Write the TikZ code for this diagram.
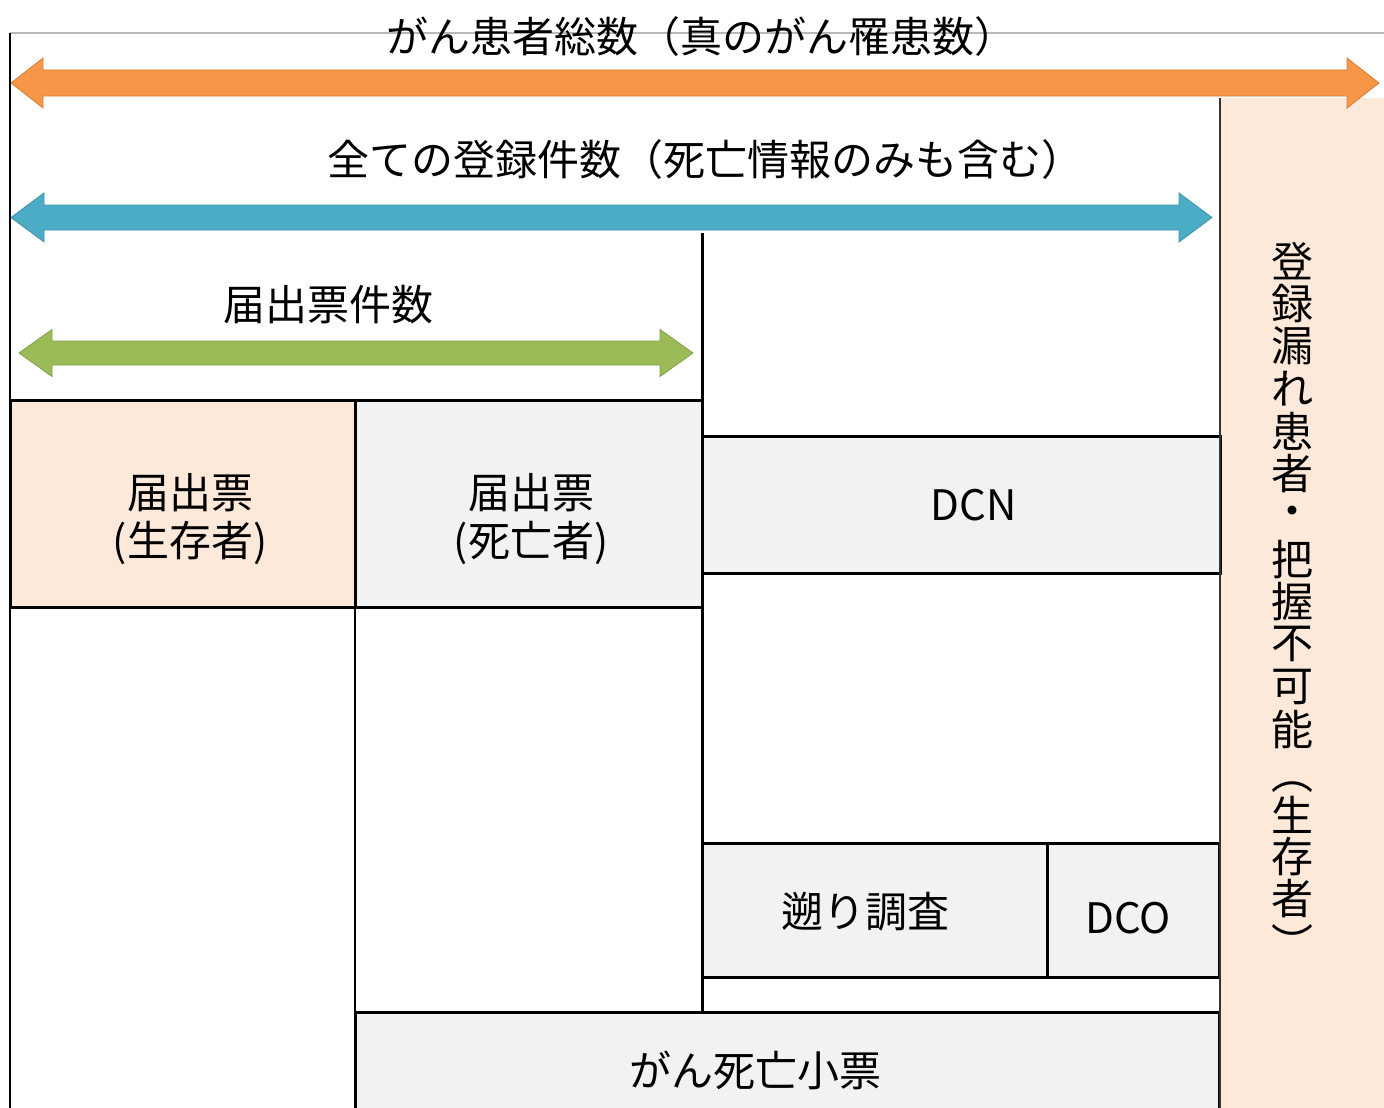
\documentclass[tikz,border=0pt]{standalone}
\usepackage{fontspec}
\setmainfont{Noto Sans CJK JP}
\definecolor{aorange}{HTML}{F79646}
\definecolor{ablue}{HTML}{4BACC6}
\definecolor{agreen}{HTML}{9BBB59}
\definecolor{peach}{HTML}{FDE9D9}
\definecolor{lgray}{HTML}{F2F2F2}
\begin{document}
\begin{tikzpicture}[x=1pt,y=-1pt,
  cell/.style={draw=black, line width=3pt, fill=lgray, rectangle, inner sep=0pt, outer sep=0pt},
  lbl/.style={inner sep=0pt, align=center, font=\fontsize{42}{48}\selectfont},
  vt/.style={inner sep=0pt, font=\fontsize{42}{42}\selectfont},
  rule/.style={draw=black, line width=3pt},
  blockarrow/.style={line width=0.8pt}]
\useasboundingbox (0,0) rectangle (1384,1108);
% right column
\fill[peach] (1221,98) rectangle (1384,1108);
% thin top line
\draw[draw=gray!55, line width=1.5pt] (10,33) -- (1384,33);
% arrows
\filldraw[blockarrow, fill=aorange, draw=aorange!85!black]
  (11,83) -- (43,58) -- (43,70) -- (1347,70) -- (1347,58) -- (1379,83) -- (1347,108) -- (1347,96) -- (43,96) -- (43,108) -- cycle;
\filldraw[blockarrow, fill=ablue, draw=ablue!85!black]
  (11,217.5) -- (44,193) -- (44,205) -- (1179,205) -- (1179,193) -- (1212,217.5) -- (1179,242) -- (1179,230) -- (44,230) -- (44,242) -- cycle;
\filldraw[blockarrow, fill=agreen, draw=agreen!85!black]
  (19,353) -- (52,329.5) -- (52,341) -- (660,341) -- (660,329.5) -- (693,353) -- (660,376.5) -- (660,365) -- (52,365) -- (52,376.5) -- cycle;
% boxes
\node[cell, fill=peach, minimum width=345, minimum height=207] (surv) at (182.5,503.5) {};
\node[cell, minimum width=347, minimum height=207] (dead) at (528.5,503.5) {};
\node[cell, minimum width=518, minimum height=137] (dcn) at (961,504.5) {};
\node[cell, minimum width=345, minimum height=134] (sak) at (874.5,910) {};
\node[cell, minimum width=172, minimum height=134] (dco) at (1133,910) {};
\node[cell, minimum width=864, minimum height=104] (shibo) at (787,1064) {};
% lines
\coordinate (ltop) at (10,33);
\coordinate (lbot) at (10,1108);
\draw[black, line width=2pt] (ltop) -- (lbot);
\coordinate (mtop) at (702,233);
\draw[rule] (mtop) -- (mtop |- shibo.north);
\draw[black, line width=2pt] (surv.south east) -- (surv.south east |- shibo.north);
\coordinate (rtop) at (1220,98);
\coordinate (rbot) at (1220,1108);
\draw[draw=black!80, line width=2.5pt] (rtop) -- (rbot);
% texts
\node[lbl] (t1) at (701,37) {がん患者総数（真のがん罹患数）};
\node[lbl] (t2) at (705,160) {全ての登録件数（死亡情報のみも含む）};
\node[lbl] (t3) at (328,305) {届出票件数};
\node[lbl] (ts) at (190,519) {届出票\\(生存者)};
\node[lbl] (td) at (531,519) {届出票\\(死亡者)};
\node[lbl] (tn) at (974,505) {DCN};
\node[lbl] (tk) at (865,912) {遡り調査};
\node[lbl] (to) at (1128,918) {DCO};
\node[lbl] (tb) at (755,1070) {がん死亡小票};
% vertical text
\foreach \c [count=\i from 0] in {登,録,漏,れ,患,者,・,把,握,不,可,能}
  \node[vt] (v\i) at (1292,{261+42.6*\i}) {\c};
\node[vt] (vpl) at (1292,787) {︵};
\node[vt] (vs1) at (1292,815) {生};
\node[vt] (vs2) at (1292,857) {存};
\node[vt] (vs3) at (1292,899) {者};
\node[vt] (vpr) at (1292,942) {︶};
\end{tikzpicture}
\end{document}
